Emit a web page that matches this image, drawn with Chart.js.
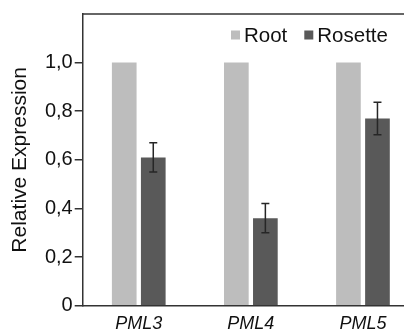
<!DOCTYPE html>
<html>
<head>
<meta charset="utf-8">
<script src="https://cdn.jsdelivr.net/npm/chart.js@4"></script>
<style>
  html, body { margin: 0; padding: 0; background: #fff; overflow: hidden; width: 404px; height: 332px; }
  #wrap { width: 419px; height: 332px; }
</style>
</head>
<body>
<div id="wrap"><canvas id="chart" width="419" height="332"></canvas></div>
<script>
const genes = ["PML3", "PML4", "PML5"];
const rootValues = [1.0, 1.0, 1.0];
const rosetteValues = [0.61, 0.36, 0.77];
const rosetteErrors = [0.06, 0.06, 0.067];
const yTickLabels = ["0", "0,2", "0,4", "0,6", "0,8", "1,0"];

const FONT = "'Liberation Sans', Arial, sans-serif";
const AXIS = "#333333";

// error bars on the rosette series
const errorBars = {
    id: "errorBars",
    afterDatasetsDraw(chart) {
        const ctx = chart.ctx;
        const meta = chart.getDatasetMeta(1);
        const y = chart.scales.y;
        ctx.save();
        ctx.strokeStyle = "#262626";
        ctx.lineWidth = 1.5;
        meta.data.forEach((bar, i) => {
            const top = y.getPixelForValue(rosetteValues[i] + rosetteErrors[i]);
            const bot = y.getPixelForValue(rosetteValues[i] - rosetteErrors[i]);
            ctx.beginPath();
            ctx.moveTo(bar.x, top); ctx.lineTo(bar.x, bot);
            ctx.moveTo(bar.x - 4, top); ctx.lineTo(bar.x + 4, top);
            ctx.moveTo(bar.x - 4, bot); ctx.lineTo(bar.x + 4, bot);
            ctx.stroke();
        });
        ctx.restore();
    }
};

// top frame line + legend inside the plot
const frameAndLegend = {
    id: "frameAndLegend",
    afterDraw(chart) {
        const ctx = chart.ctx;
        const area = chart.chartArea;
        ctx.save();
        ctx.strokeStyle = AXIS;
        ctx.lineWidth = 1.5;
        ctx.beginPath();
        ctx.moveTo(area.left, area.top);
        ctx.lineTo(area.right, area.top);
        ctx.stroke();

        ctx.font = "20.5px " + FONT;
        ctx.textBaseline = "middle";
        const cy = 35;
        let x = 231;
        chart.data.datasets.forEach(ds => {
            ctx.fillStyle = ds.backgroundColor;
            ctx.fillRect(x, cy - 4.5, 9, 9);
            ctx.fillStyle = "#111";
            ctx.fillText(ds.label, x + 13, cy + 1);
            x += 13 + ctx.measureText(ds.label).width + 17;
        });
        ctx.restore();
    }
};

new Chart(document.getElementById("chart"), {
    type: "bar",
    data: {
        labels: genes,
        datasets: [
            { label: "Root", data: rootValues, backgroundColor: "#bdbdbd" },
            { label: "Rosette", data: rosetteValues, backgroundColor: "#595959" }
        ]
    },
    options: {
        responsive: false,
        animation: false,
        layout: { padding: { top: 12, right: 0, bottom: 0, left: 0 } },
        datasets: { bar: { categoryPercentage: 0.518, barPercentage: 0.85 } },
        plugins: { legend: { display: false }, tooltip: { enabled: false } },
        scales: {
            x: {
                afterFit: s => { s.height = 26.3; },
                grid: { display: false, drawTicks: false },
                border: { display: true, color: AXIS, width: 1.5 },
                ticks: { color: "#111", padding: 7, font: { family: FONT, size: 18, style: "italic" } }
            },
            y: {
                min: 0,
                max: 1.2,
                afterBuildTicks: s => { s.ticks = s.ticks.filter(t => t.value <= 1.0001); },
                afterFit: s => { s.width = 82.7; },
                grid: { drawOnChartArea: false, drawTicks: true, tickLength: 8, color: AXIS, lineWidth: 1.5 },
                border: { display: true, color: AXIS, width: 1.5 },
                ticks: {
                    stepSize: 0.2,
                    padding: 2,
                    color: "#111",
                    font: { family: FONT, size: 20 },
                    callback: (v, i) => yTickLabels[i]
                },
                title: {
                    display: true,
                    text: "Relative Expression",
                    color: "#111",
                    padding: { top: 8, bottom: 0 },
                    font: { family: FONT, size: 21 }
                }
            }
        }
    },
    plugins: [errorBars, frameAndLegend]
});
</script>
</body>
</html>
